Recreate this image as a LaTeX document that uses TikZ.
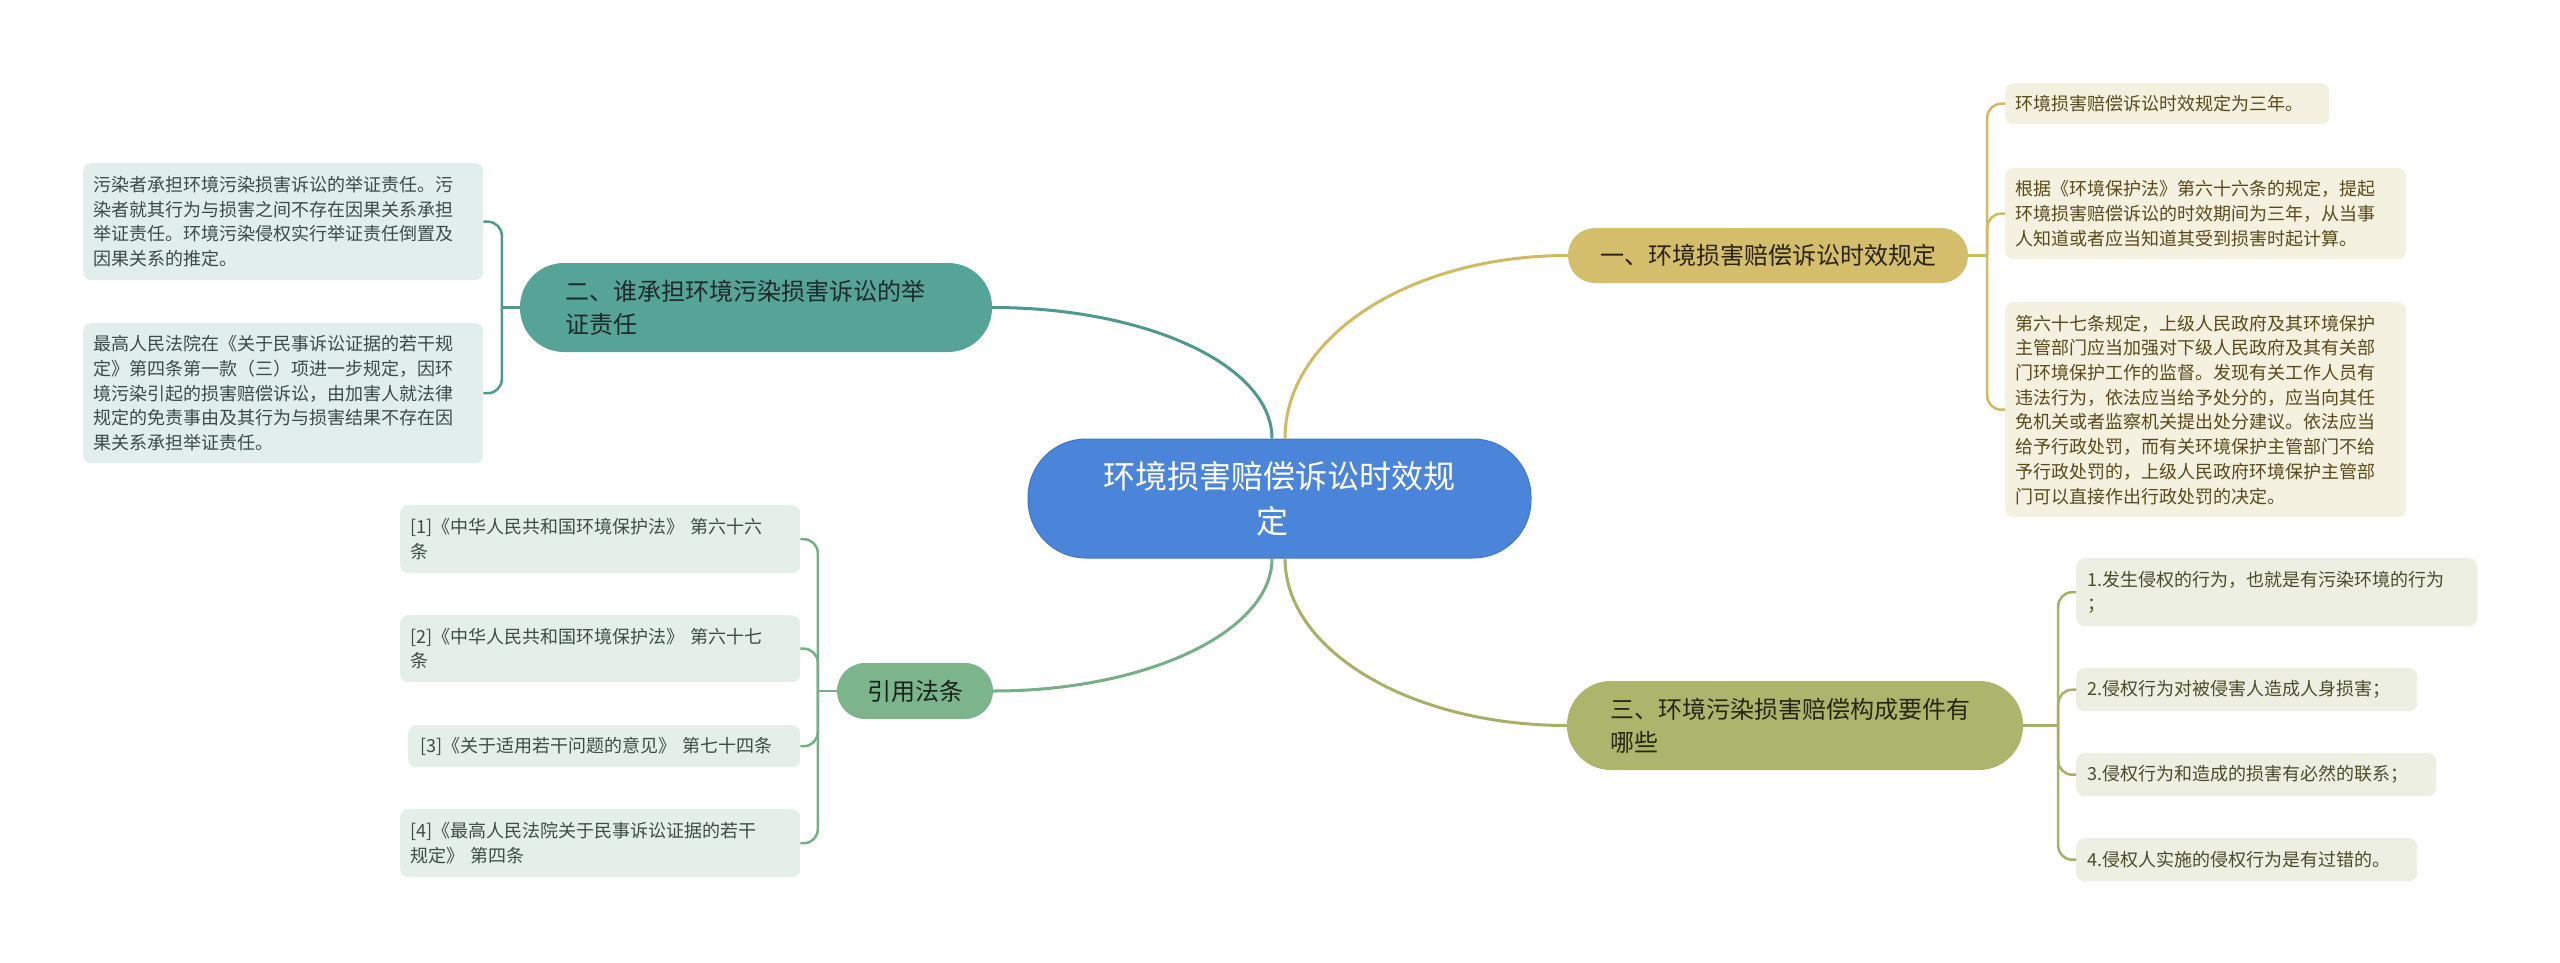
\documentclass[tikz,border=0pt]{standalone}
\usepackage{fontspec}
\newfontfamily\cjkfont{Noto Sans CJK SC}
\usetikzlibrary{calc}
\definecolor{cmain}{RGB}{75,133,217}
\definecolor{cmainb}{RGB}{66,118,196}
\definecolor{cgold}{RGB}{213,190,107}
\definecolor{cteal}{RGB}{86,163,152}
\definecolor{colive}{RGB}{173,181,108}
\definecolor{cgreen}{RGB}{124,180,140}
\definecolor{lgold}{RGB}{208,186,100}
\definecolor{lteal}{RGB}{78,152,141}
\definecolor{lolive}{RGB}{168,176,103}
\definecolor{lgreen}{RGB}{118,174,134}
\definecolor{fgold}{RGB}{244,241,225}
\definecolor{fteal}{RGB}{226,238,236}
\definecolor{folive}{RGB}{238,239,227}
\definecolor{fgreen}{RGB}{228,239,232}
\definecolor{tgold}{RGB}{90,74,26}
\definecolor{tteal}{RGB}{58,76,72}
\definecolor{tolive}{RGB}{72,76,40}
\definecolor{tgreen}{RGB}{60,78,68}
\definecolor{bgoldt}{RGB}{40,35,15}
\definecolor{btealt}{RGB}{30,42,40}
\definecolor{bolivet}{RGB}{35,40,20}
\definecolor{bgreent}{RGB}{25,35,28}
\tikzset{
  leaf/.style={rounded corners=8pt, inner xsep=10pt, inner ysep=0pt, align=left, anchor=north west,
    font=\cjkfont\fontsize{18pt}{24.7pt}\selectfont},
  goldleaf/.style={leaf, fill=fgold, text=tgold},
  tealleaf/.style={leaf, fill=fteal, text=tteal},
  oliveleaf/.style={leaf, fill=folive, text=tolive},
  greenleaf/.style={leaf, fill=fgreen, text=tgreen},
  branchbox/.style={inner ysep=0pt, font=\cjkfont\fontsize{24pt}{33pt}\selectfont},
  mainbox/.style={fill=cmain, draw=cmainb, line width=1pt, text=white, rounded corners=58pt,
    minimum width=503pt, minimum height=119pt, text width=436pt, align=center, inner xsep=33.5pt,
    font=\cjkfont\fontsize{32pt}{45pt}\selectfont},
  mainline/.style={line width=3pt},
  subline/.style={line width=2.5pt, rounded corners=14pt},
}
\begin{document}
\begin{tikzpicture}[x=1pt,y=-1pt]
\useasboundingbox (0,0) rectangle (2560,963);
% central node
\node[mainbox] (c) at (1279.5,498.5) {环境损害赔偿诉讼时效规\hspace*{15pt}\\定\hspace*{15pt}};
% branches
\node[branchbox, fill=cgold, text=bgoldt, rounded corners=27pt, minimum width=400pt, minimum height=55pt] (b1) at (1768,255.5) {一、环境损害赔偿诉讼时效规定};
\node[branchbox, fill=cteal, text=btealt, rounded corners=44pt, text width=382pt, inner xsep=45pt, minimum height=89pt, align=left] (b2) at (756,307.5) {二、谁承担环境污染损害诉讼的举\\证责任};
\node[branchbox, fill=colive, text=bolivet, rounded corners=44pt, text width=370pt, inner xsep=43pt, minimum height=89pt, align=left] (b3) at (1795,725.5) {三、环境污染损害赔偿构成要件有\\哪些};
\node[branchbox, fill=cgreen, text=bgreent, rounded corners=28pt, minimum width=156pt, minimum height=56pt] (b4) at (915,691) {引用法条};
% leaves gold
\node[goldleaf, text width=304pt, minimum height=41pt] (l1a) at (2005,83) {环境损害赔偿诉讼时效规定为三年。};
\node[goldleaf, text width=381pt, minimum height=91pt] (l1b) at (2005,168) {根据《环境保护法》第六十六条的规定，提起\\环境损害赔偿诉讼的时效期间为三年，从当事\\人知道或者应当知道其受到损害时起计算。};
\node[goldleaf, text width=381pt, minimum height=215pt] (l1c) at (2005,302) {第六十七条规定，上级人民政府及其环境保护\\主管部门应当加强对下级人民政府及其有关部\\门环境保护工作的监督。发现有关工作人员有\\违法行为，依法应当给予处分的，应当向其任\\免机关或者监察机关提出处分建议。依法应当\\给予行政处罚，而有关环境保护主管部门不给\\予行政处罚的，上级人民政府环境保护主管部\\门可以直接作出行政处罚的决定。};
% leaves teal
\node[tealleaf, text width=380pt, minimum height=117pt] (l2a) at (83,163) {污染者承担环境污染损害诉讼的举证责任。污\\染者就其行为与损害之间不存在因果关系承担\\举证责任。环境污染侵权实行举证责任倒置及\\因果关系的推定。};
\node[tealleaf, text width=380pt, minimum height=140pt] (l2b) at (83,323) {最高人民法院在《关于民事诉讼证据的若干规\\定》第四条第一款（三）项进一步规定，因环\\境污染引起的损害赔偿诉讼，由加害人就法律\\规定的免责事由及其行为与损害结果不存在因\\果关系承担举证责任。};
% leaves green
\node[greenleaf, text width=380pt, minimum height=68pt] (l4a) at (400,505) {[1]《中华人民共和国环境保护法》 第六十六\\条};
\node[greenleaf, text width=380pt, minimum height=67pt] (l4b) at (400,615) {[2]《中华人民共和国环境保护法》 第六十七\\条};
\node[greenleaf, text width=368pt, inner xsep=12pt, minimum height=42pt] (l4c) at (408,725) {[3]《关于适用若干问题的意见》 第七十四条};
\node[greenleaf, text width=380pt, minimum height=68pt] (l4d) at (400,809) {[4]《最高人民法院关于民事诉讼证据的若干\\规定》 第四条};
% leaves olive
\node[oliveleaf, text width=379pt, inner xsep=11pt, minimum height=68pt] (l3a) at (2076,558) {1.发生侵权的行为，也就是有污染环境的行为\\；};
\node[oliveleaf, text width=319pt, inner xsep=11pt, minimum height=43pt] (l3b) at (2076,668) {2.侵权行为对被侵害人造成人身损害；};
\node[oliveleaf, text width=338pt, inner xsep=11pt, minimum height=43pt] (l3c) at (2076,753) {3.侵权行为和造成的损害有必然的联系；};
\node[oliveleaf, text width=319pt, inner xsep=11pt, minimum height=43pt] (l3d) at (2076,838) {4.侵权人实施的侵权行为是有过错的。};
% central connectors
\draw[mainline, draw=lgold] ($(c.north)+(5.5,0)$) .. controls +(0,-103) and +(-156,0) .. (b1.west);
\draw[mainline, draw=lteal] ($(c.north)+(-7.5,0)$) .. controls +(0,-73) and +(155,0) .. (b2.east);
\draw[mainline, draw=lgreen] ($(c.south)+(-7.5,0)$) .. controls +(0,73) and +(154,0) .. (b4.east);
\draw[mainline, draw=lolive] ($(c.south)+(5.5,0)$) .. controls +(0,92) and +(-156,0) .. (b3.west);
% junctions
\coordinate (j1) at ($(b1.east)+(19,0)$);
\coordinate (j2) at ($(b2.west)+(-18,0)$);
\coordinate (j3) at ($(b3.east)+(35,0)$);
\coordinate (j4) at ($(b4.west)+(-19,0)$);
\draw[subline, draw=lgold] (b1.east) -- (j1);
\draw[subline, draw=lgold] (j1) |- (l1a.west);
\draw[subline, draw=lgold] (j1) |- (l1b.west);
\draw[subline, draw=lgold] (j1) |- (l1c.west);
\draw[subline, draw=lteal] (b2.west) -- (j2);
\draw[subline, draw=lteal] (j2) |- (l2a.east);
\draw[subline, draw=lteal] (j2) |- (l2b.east);
\draw[subline, draw=lolive] (b3.east) -- (j3);
\draw[subline, draw=lolive] (j3) |- (l3a.west);
\draw[subline, draw=lolive] (j3) |- (l3b.west);
\draw[subline, draw=lolive] (j3) |- (l3c.west);
\draw[subline, draw=lolive] (j3) |- (l3d.west);
\draw[subline, draw=lgreen] (b4.west) -- (j4);
\draw[subline, draw=lgreen] (j4) |- (l4a.east);
\draw[subline, draw=lgreen] (j4) |- (l4b.east);
\draw[subline, draw=lgreen] (j4) |- (l4c.east);
\draw[subline, draw=lgreen] (j4) |- (l4d.east);
\end{tikzpicture}
\end{document}
